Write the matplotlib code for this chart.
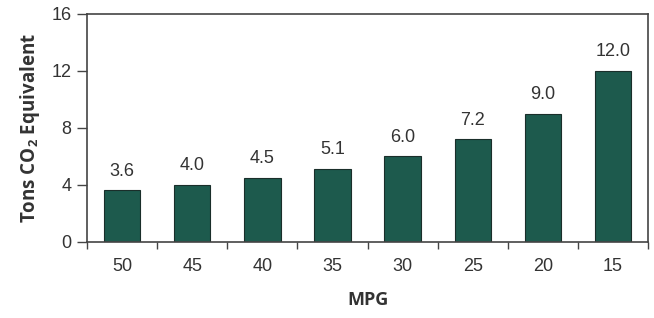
import matplotlib.pyplot as plt
import numpy as np

# Dati
mpg = ['50', '45', '40', '35', '30', '25', '20', '15']
tons = [3.6, 4.0, 4.5, 5.1, 6.0, 7.2, 9.0, 12.0]
etichette = ['3.6', '4.0', '4.5', '5.1', '6.0', '7.2', '9.0', '12.0']

plt.rcParams['font.family'] = ['Liberation Sans', 'DejaVu Sans']

fig, ax = plt.subplots(figsize=(6.54, 3.18), dpi=100)
fig.subplots_adjust(left=0.133, right=0.991, top=0.956, bottom=0.24)

x = np.arange(len(mpg))
ax.bar(x, tons, width=0.52, color='#1d5a4d', edgecolor='#1a2e2a', linewidth=0.8)

# Valori sopra le barre
for xi, v, t in zip(x, tons, etichette):
    ax.text(xi, v + 0.75, t, ha='center', va='bottom', fontsize=13, color='#333333')

ax.set_xlim(-0.5, len(mpg) - 0.5)
ax.set_ylim(0, 16)
ax.set_yticks([0, 4, 8, 12, 16])

# Tacche dell'asse X tra le categorie
ax.set_xticks(np.arange(-0.5, len(mpg)), minor=False)
ax.set_xticklabels([])
ax.set_xticks(x, minor=True)
ax.set_xticklabels(mpg, minor=True)
ax.tick_params(axis='x', which='major', direction='out', length=5, width=1, color='#444444')
ax.tick_params(axis='x', which='minor', length=0, pad=12, labelsize=13, labelcolor='#333333')
ax.tick_params(axis='y', direction='out', length=7, width=1, color='#444444', labelsize=13,
               labelcolor='#333333', pad=4)

for s in ax.spines.values():
    s.set_color('#444444')
    s.set_linewidth(1.2)

ax.set_xlabel('MPG', fontsize=13, fontweight='bold', family='Open Sans', color='#333333', labelpad=11)
ax.set_ylabel('Tons CO$_\\mathregular{2}$ Equivalent', fontsize=13.5, fontweight='bold',
              family='Open Sans', color='#333333', labelpad=7)

plt.savefig('out.png')
